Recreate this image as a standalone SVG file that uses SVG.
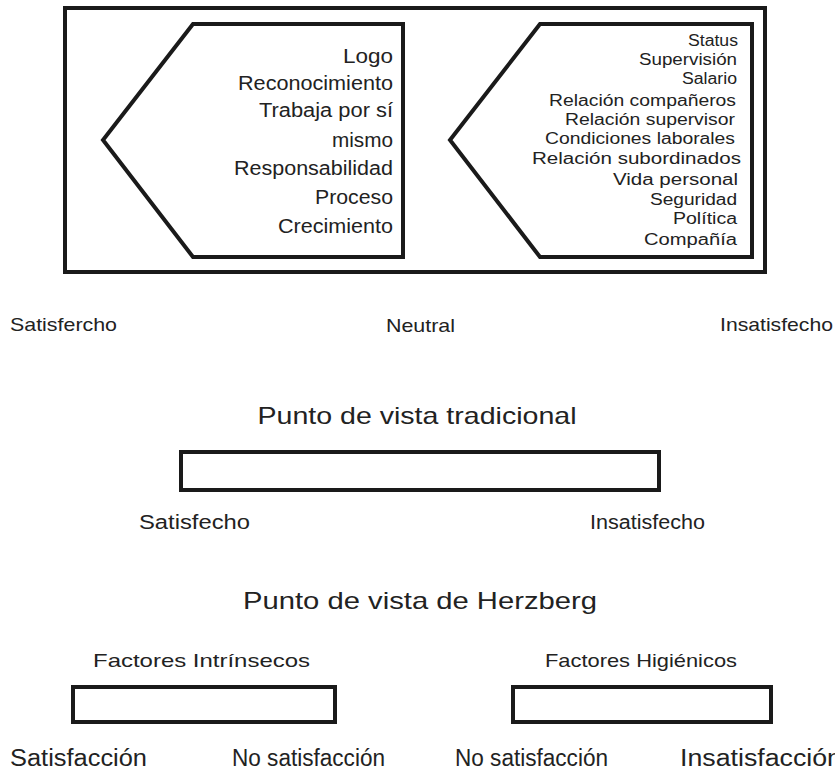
<svg xmlns="http://www.w3.org/2000/svg" width="835" height="771" viewBox="0 0 835 771">
<style>
.box{fill:#fff;stroke:#1a1a1a;stroke-width:4;stroke-linejoin:miter}
text{font-family:"Liberation Sans",Arial,sans-serif;fill:#222}
.l{font-size:20px;text-anchor:end}
.r{font-size:16px;text-anchor:end}
.m{font-size:19px}
.h{font-size:24px;text-anchor:middle}
.s{font-size:20px}
.f{font-size:19px}
.b{font-size:23px}
</style>
<rect width="835" height="771" fill="#fff"/>
<g id="outer"><rect class="box" x="65" y="8" width="700" height="264"/></g>
<g id="left-arrow">
<polygon class="box" points="193,24 403,24 403,257 193,257 103,140"/>
<text class="l" x="393" y="63" textLength="50" lengthAdjust="spacingAndGlyphs">Logo</text>
<text class="l" x="393" y="90" textLength="155" lengthAdjust="spacingAndGlyphs">Reconocimiento</text>
<text class="l" x="393" y="117" textLength="134" lengthAdjust="spacingAndGlyphs">Trabaja por sí</text>
<text class="l" x="393" y="147" textLength="61" lengthAdjust="spacingAndGlyphs">mismo</text>
<text class="l" x="393" y="175" textLength="159" lengthAdjust="spacingAndGlyphs">Responsabilidad</text>
<text class="l" x="393" y="204" textLength="78" lengthAdjust="spacingAndGlyphs">Proceso</text>
<text class="l" x="393" y="233" textLength="115" lengthAdjust="spacingAndGlyphs">Crecimiento</text>
</g>
<g id="right-arrow">
<polygon class="box" points="540,24 752,24 752,257 540,257 450,140"/>
<text class="r" x="738" y="46" textLength="50" lengthAdjust="spacingAndGlyphs">Status</text>
<text class="r" x="737" y="65" textLength="98" lengthAdjust="spacingAndGlyphs">Supervisión</text>
<text class="r" x="737" y="84" textLength="55" lengthAdjust="spacingAndGlyphs">Salario</text>
<text class="r" x="736" y="106" textLength="187" lengthAdjust="spacingAndGlyphs">Relación compañeros</text>
<text class="r" x="735" y="125" textLength="170" lengthAdjust="spacingAndGlyphs">Relación supervisor</text>
<text class="r" x="735" y="144" textLength="190" lengthAdjust="spacingAndGlyphs">Condiciones laborales</text>
<text class="r" x="741" y="164" textLength="209" lengthAdjust="spacingAndGlyphs">Relación subordinados</text>
<text class="r" x="738" y="185" textLength="125" lengthAdjust="spacingAndGlyphs">Vida personal</text>
<text class="r" x="737" y="205" textLength="87" lengthAdjust="spacingAndGlyphs">Seguridad</text>
<text class="r" x="737" y="224" textLength="64" lengthAdjust="spacingAndGlyphs">Política</text>
<text class="r" x="737" y="245" textLength="93" lengthAdjust="spacingAndGlyphs">Compañía</text>
</g>
<g id="scale-labels">
<text class="m" x="10" y="331" textLength="107" lengthAdjust="spacingAndGlyphs">Satisfercho</text>
<text class="m" x="386" y="332" textLength="69" lengthAdjust="spacingAndGlyphs">Neutral</text>
<text class="m" x="720" y="331" textLength="113" lengthAdjust="spacingAndGlyphs">Insatisfecho</text>
</g>
<g id="traditional">
<text class="h" x="417" y="424" textLength="319" lengthAdjust="spacingAndGlyphs">Punto de vista tradicional</text>
<rect class="box" x="181" y="452" width="478" height="38"/>
<text class="s" x="139" y="529" textLength="111" lengthAdjust="spacingAndGlyphs">Satisfecho</text>
<text class="s" x="590" y="529" textLength="115" lengthAdjust="spacingAndGlyphs">Insatisfecho</text>
</g>
<g id="herzberg">
<text class="h" x="420" y="609" textLength="354" lengthAdjust="spacingAndGlyphs">Punto de vista de Herzberg</text>
</g>
<g id="intrinsic">
<text class="f" x="93" y="667" textLength="217" lengthAdjust="spacingAndGlyphs">Factores  Intrínsecos</text>
<rect class="box" x="73" y="687" width="262" height="35"/>
<text class="b" x="10" y="766" textLength="137" lengthAdjust="spacingAndGlyphs">Satisfacción</text>
<text class="b" x="232" y="766" textLength="153" lengthAdjust="spacingAndGlyphs">No satisfacción</text>
</g>
<g id="hygienic">
<text class="f" x="545" y="667" textLength="192" lengthAdjust="spacingAndGlyphs">Factores  Higiénicos</text>
<rect class="box" x="513" y="687" width="258" height="35"/>
<text class="b" x="455" y="766" textLength="153" lengthAdjust="spacingAndGlyphs">No satisfacción</text>
<text class="b" x="680" y="766" textLength="162" lengthAdjust="spacingAndGlyphs">Insatisfacción</text>
</g>
</svg>
